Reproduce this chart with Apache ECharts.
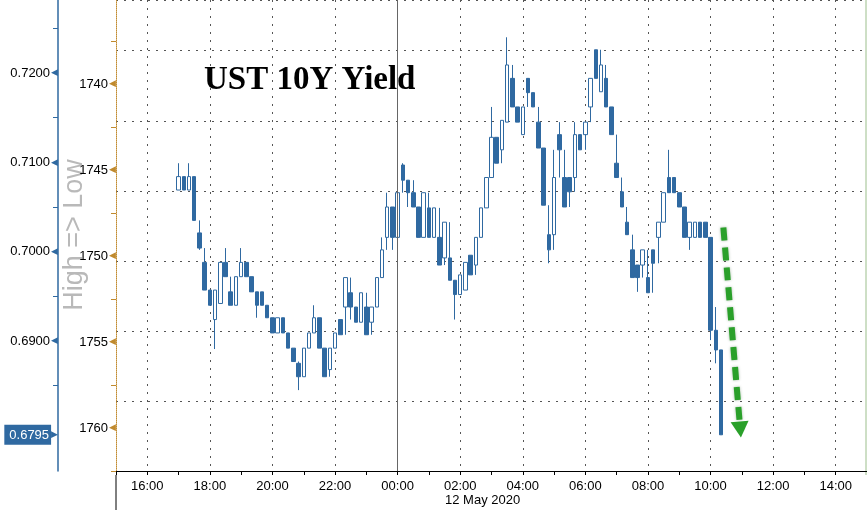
<!DOCTYPE html>
<html><head><meta charset="utf-8">
<script src="https://cdn.jsdelivr.net/npm/echarts@6/dist/echarts.min.js"></script>
<style>html,body{margin:0;padding:0;background:#fff}#c{width:867px;height:510px}</style>
</head><body><div id="c"></div>
<script>
// 10-minute bars, 11 May 2020 17:00 -> 12 May 2020 10:20 (hours counted from 11 May 00:00)
const startHour = 17;
const stepMinutes = 10;
const openVals = [
0.7069,0.7084,0.7069,0.7084,0.7021,0.6988,0.6957,0.6924,0.6942,0.6988,
0.6955,0.6940,0.6972,0.6988,0.6972,0.6955,0.6955,0.6940,0.6926,0.6909,
0.6926,0.6909,0.6892,0.6875,0.6860,0.6892,0.6909,0.6926,0.6892,0.6868,
0.6892,0.6924,0.6938,0.6954,0.6938,0.6921,0.6938,0.6921,0.6938,0.6971,
0.7016,0.7050,0.7016,0.7097,0.7080,0.7066,0.7050,0.7016,0.7049,0.7016,
0.7016,0.6993,0.6993,0.6968,0.6952,0.6957,0.6996,0.6985,0.7016,0.7049,
0.7083,0.7128,0.7114,0.7145,0.7194,0.7162,0.7131,0.7194,0.7178,0.7145,
0.7116,0.7019,0.7019,0.7131,0.7083,0.7083,0.7083,0.7131,0.7131,0.7162,
0.7226,0.7179,0.7194,0.7162,0.7099,0.7067,0.7033,0.7002,0.6985,0.6985,
0.6971,0.7002,0.7016,0.7033,0.7083,0.7083,0.7066,0.7050,0.7016,0.7016,
0.7033,0.7033,0.7016,0.6912,0.6890];
const closeVals = [
0.7084,0.7069,0.7084,0.7035,0.7004,0.6957,0.6940,0.6957,0.6988,0.6972,
0.6940,0.6972,0.6988,0.6972,0.6955,0.6940,0.6940,0.6926,0.6909,0.6926,
0.6909,0.6892,0.6877,0.6860,0.6892,0.6909,0.6926,0.6892,0.6860,0.6892,
0.6909,0.6907,0.6971,0.6938,0.6921,0.6954,0.6907,0.6938,0.6971,0.7002,
0.7050,0.7016,0.7066,0.7080,0.7066,0.7050,0.7016,0.7066,0.7016,0.7049,
0.6985,0.7033,0.6968,0.6952,0.6974,0.6988,0.6974,0.7016,0.7049,0.7083,
0.7128,0.7099,0.7147,0.7209,0.7162,0.7145,0.7162,0.7178,0.7162,0.7116,
0.7052,0.7002,0.7083,0.7114,0.7050,0.7067,0.7131,0.7114,0.7145,0.7194,
0.7194,0.7209,0.7162,0.7131,0.7083,0.7050,0.7019,0.6971,0.6971,0.7002,
0.6954,0.6987,0.7033,0.7066,0.7066,0.7066,0.7050,0.7016,0.7033,0.7033,
0.7016,0.7016,0.6912,0.6890,0.6795];
const lowVals = [
0.7069,0.7069,0.7069,0.7035,0.7002,0.6957,0.6940,0.6891,0.6942,0.6972,
0.6940,0.6940,0.6972,0.6972,0.6955,0.6926,0.6940,0.6926,0.6909,0.6909,
0.6909,0.6892,0.6877,0.6845,0.6860,0.6892,0.6909,0.6892,0.6860,0.6860,
0.6892,0.6907,0.6907,0.6924,0.6921,0.6921,0.6907,0.6907,0.6938,0.6971,
0.7002,0.7002,0.7016,0.7066,0.7050,0.7050,0.7016,0.7016,0.7016,0.7016,
0.6985,0.6985,0.6968,0.6924,0.6952,0.6957,0.6974,0.6974,0.7016,0.7049,
0.7083,0.7099,0.7099,0.7145,0.7162,0.7145,0.7131,0.7162,0.7162,0.7116,
0.7052,0.6987,0.7002,0.7083,0.7050,0.7050,0.7067,0.7114,0.7114,0.7145,
0.7194,0.7179,0.7162,0.7131,0.7083,0.7050,0.7019,0.6971,0.6955,0.6971,
0.6954,0.6954,0.6987,0.7033,0.7066,0.7066,0.7050,0.7016,0.7002,0.7016,
0.7016,0.7016,0.6901,0.6875,0.6795];
const highVals = [
0.7099,0.7084,0.7099,0.7084,0.7035,0.7004,0.6957,0.6957,0.6988,0.7004,
0.6972,0.6972,0.7004,0.6988,0.6972,0.6955,0.6955,0.6940,0.6926,0.6926,
0.6926,0.6909,0.6892,0.6877,0.6892,0.6909,0.6940,0.6926,0.6892,0.6892,
0.6909,0.6924,0.6971,0.6971,0.6938,0.6954,0.6954,0.6938,0.6971,0.7016,
0.7066,0.7050,0.7066,0.7099,0.7080,0.7080,0.7050,0.7066,0.7066,0.7049,
0.7049,0.7033,0.7033,0.6968,0.6974,0.6988,0.6996,0.7016,0.7049,0.7083,
0.7162,0.7128,0.7147,0.7240,0.7209,0.7162,0.7162,0.7194,0.7178,0.7162,
0.7116,0.7052,0.7114,0.7145,0.7114,0.7083,0.7145,0.7131,0.7145,0.7194,
0.7226,0.7226,0.7209,0.7162,0.7131,0.7083,0.7050,0.7019,0.6985,0.7002,
0.7002,0.7002,0.7033,0.7066,0.7114,0.7083,0.7066,0.7050,0.7033,0.7033,
0.7033,0.7033,0.7016,0.6938,0.6890];

const xLabelHours = [16,18,20,22,24,26,28,30,32,34,36,38];
const xGridHours = [16,18,20,22,26,28,30,32,34,36,38];
const dayBreakHour = 24;
const yieldLabels = [0.69,0.70,0.71,0.72];
const yieldMinorTicks = [0.685,0.695,0.705,0.715,0.725];
const priceLabels = [1740,1745,1750,1755,1760];
const priceMinorTicks = [1737.5,1742.5,1747.5,1752.5,1757.5,1762.5];
const arrowFrom = [34.41, 0.7027];
const arrowTo = [34.95, 0.6801];
const titleText = 'UST 10Y Yield';
const sideText = 'High => Low';
const dateText = '12 May 2020';

const lastClose = closeVals[closeVals.length - 1];
const candles = openVals.map((o, i) => [startHour + i * stepMinutes / 60, o, closeVals[i], lowVals[i], highVals[i]]);
const pad = n => (n < 10 ? '0' : '') + n;
const BLUE = '#2f69a1';
const ORANGE = '#c08a2e';
const LF = 'Liberation Sans';

const chart = echarts.init(document.getElementById('c'), null, {renderer: 'canvas'});
chart.setOption({
  animation: false,
  backgroundColor: '#fff',
  title: {
    text: titleText, left: 204, top: 64, padding: 0,
    textStyle: {fontFamily: 'Liberation Serif', fontWeight: 'bold', fontSize: 33, color: '#000'}
  },
  grid: {left: 116, right: 0, top: 0, bottom: 39},
  xAxis: [{
    type: 'value', min: 15, max: 39, interval: 1, offset: 4,
    axisLine: {show: true, lineStyle: {color: '#000', width: 1}},
    axisTick: {show: true, length: 4, lineStyle: {color: '#000'}},
    axisLabel: {
      customValues: xLabelHours,
      formatter: v => pad(Math.round(v) % 24) + ':00',
      color: '#000', fontFamily: LF, fontSize: 13, margin: 5
    },
    splitLine: {show: false}
  }, {
    type: 'value', min: 15, max: 39, position: 'top',
    axisLine: {show: false},
    axisTick: {show: false, customValues: xGridHours},
    axisLabel: {show: false},
    splitLine: {show: true, lineStyle: {color: '#555', type: [2, 6], width: 1}}
  }],
  yAxis: [{
    type: 'value', position: 'left', offset: 58, min: 0.675446, max: 0.728172,
    axisLine: {show: true, lineStyle: {color: BLUE, width: 1.5}},
    axisTick: {show: true, customValues: yieldMinorTicks, length: 5, lineStyle: {color: BLUE}},
    axisLabel: {
      customValues: yieldLabels.concat([lastClose]), margin: 0,
      formatter: v => Math.abs(v - lastClose) < 1e-9 ? '{hl|' + v.toFixed(4) + '}{ht|▶}' : '{v|' + v.toFixed(4) + '}{t|◀}',
      rich: {
        v: {fontFamily: LF, fontSize: 13, color: '#000'},
        t: {fontFamily: 'DejaVu Sans', fontSize: 9, color: BLUE, padding: [0, 0, 0, 1]},
        hl: {fontFamily: LF, fontSize: 13, color: '#fff', backgroundColor: BLUE, padding: [4, 2, 3, 5]},
        ht: {fontFamily: 'DejaVu Sans', fontSize: 9, color: BLUE}
      }
    },
    splitLine: {show: false}
  }, {
    type: 'value', position: 'left', offset: 0, inverse: true, min: 1735.116, max: 1762.5,
    axisLine: {show: true, lineStyle: {color: ORANGE, width: 1, type: 'dotted'}},
    axisTick: {show: true, customValues: priceMinorTicks, length: 5, lineStyle: {color: ORANGE}},
    axisLabel: {
      customValues: priceLabels, margin: 0,
      formatter: v => '{v|' + v + '}{t|◀}',
      rich: {
        v: {fontFamily: LF, fontSize: 13, color: '#000'},
        t: {fontFamily: 'DejaVu Sans', fontSize: 9, color: ORANGE, padding: [0, 0, 0, 1]}
      }
    },
    splitLine: {show: false}
  }, {
    type: 'value', position: 'right', min: 0, max: 6.7238, interval: 1,
    axisLine: {show: false}, axisTick: {show: false}, axisLabel: {show: false},
    splitLine: {show: true, lineStyle: {color: '#555', type: [2, 6], width: 1}}
  }],
  series: [{
    type: 'candlestick', xAxisIndex: 0, yAxisIndex: 0,
    data: candles, encode: {x: 0, y: [1, 2, 3, 4]},
    barWidth: 4,
    itemStyle: {color: '#fff', color0: BLUE, borderColor: BLUE, borderColor0: BLUE, borderWidth: 1},
    markLine: {
      silent: true, symbol: ['none', 'none'], label: {show: false},
      data: [
        {xAxis: dayBreakHour, lineStyle: {color: '#666', type: 'solid', width: 1}},
        [
          {coord: arrowFrom, symbol: 'none'},
          {coord: arrowTo, symbol: 'triangle', symbolSize: [18, 16],
           lineStyle: {color: '#2aa02a', width: 6, type: [13, 7], shadowBlur: 3, shadowColor: 'rgba(0,60,0,0.35)'},
           itemStyle: {color: '#2aa02a'}}
        ]
      ]
    }
  }],
  graphic: [
    {type: 'text', x: 75, y: 235, rotation: Math.PI / 2,
     style: {text: sideText, fill: '#b9b9b9', fontFamily: LF, fontSize: 27, align: 'center', verticalAlign: 'middle'}},
    {type: 'text', left: 445, top: 494,
     style: {text: dateText, fill: '#000', fontFamily: LF, fontSize: 13}},
    {type: 'line', shape: {x1: 116, y1: 475, x2: 116, y2: 510}, style: {stroke: '#000', lineWidth: 1}},
    {type: 'line', shape: {x1: 866, y1: 0, x2: 866, y2: 475}, style: {stroke: '#9cbf8c', lineWidth: 1}}
  ]
});
</script></body></html>
